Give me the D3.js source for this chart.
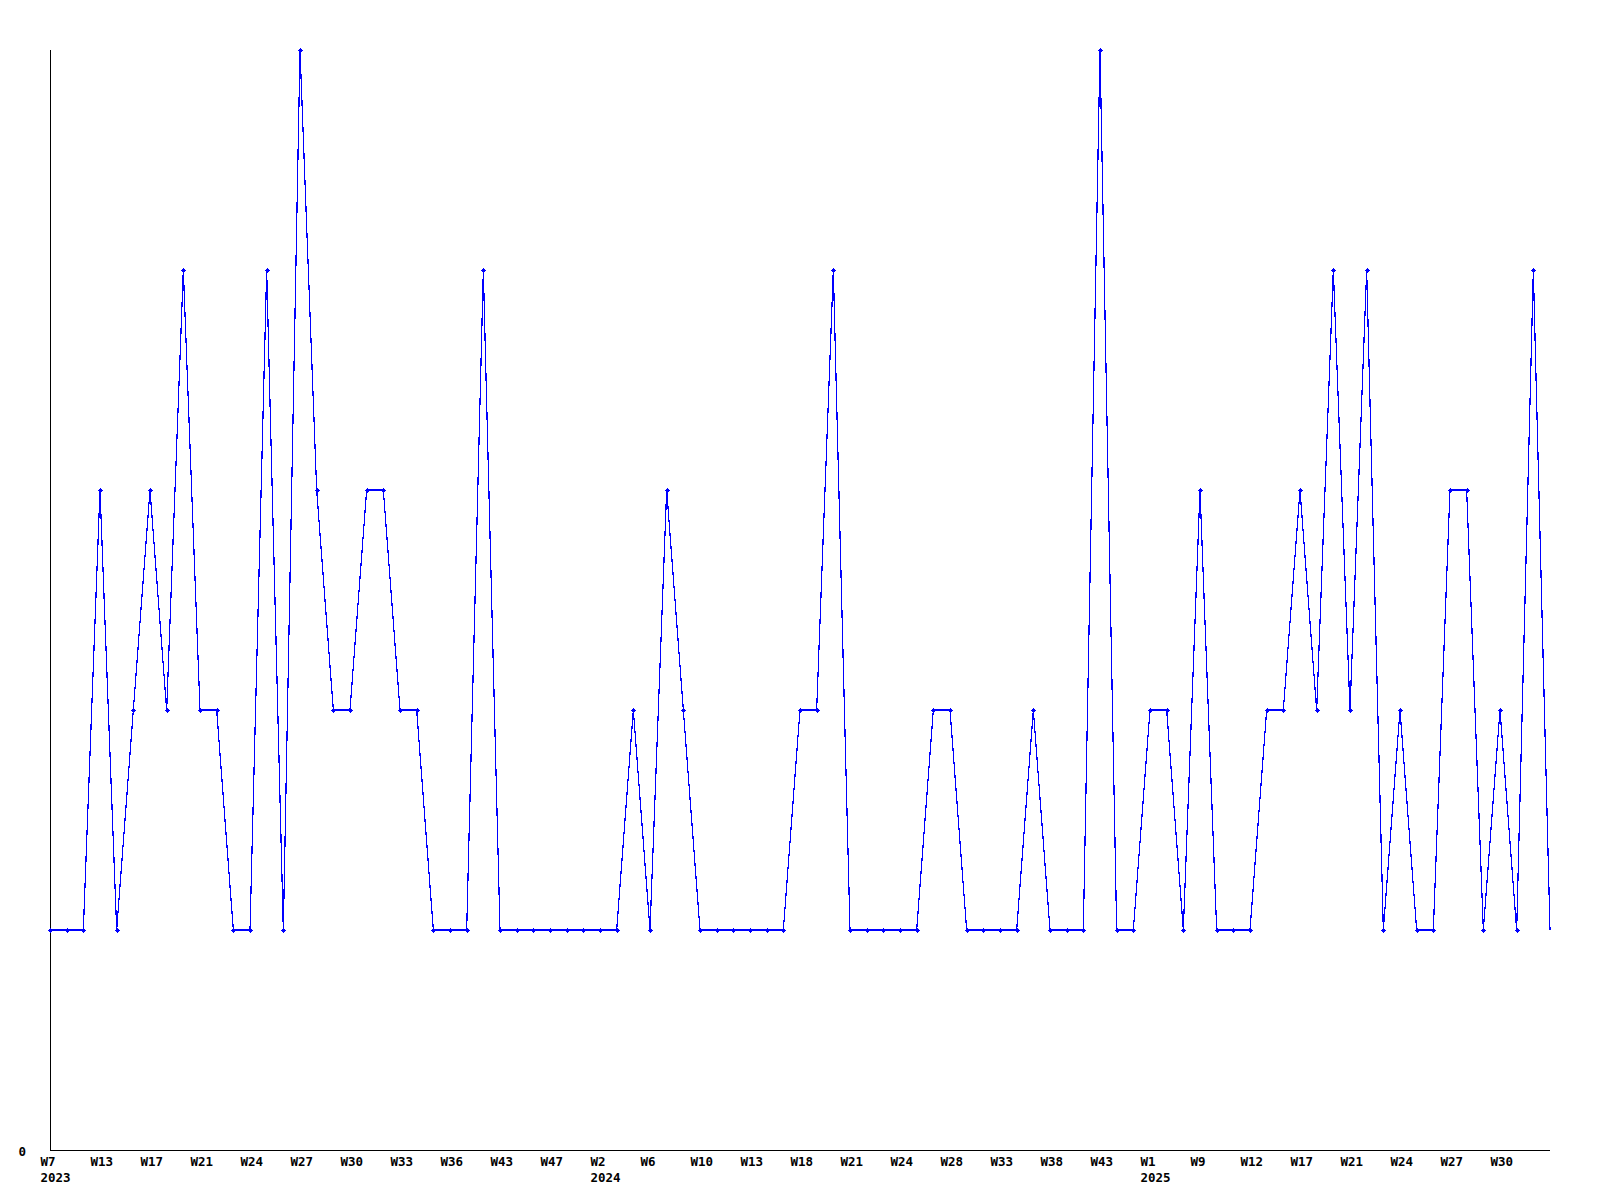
<!DOCTYPE html>
<html>
<head>
<meta charset="utf-8">
<script src="https://cdn.jsdelivr.net/npm/d3@7"></script>
<style>
  html, body { margin: 0; padding: 0; background: #ffffff; }
  svg { display: block; }
</style>
</head>
<body>
<script>
// ---- data ----
const values = [
  1, 1, 1, 3, 1, 2, 3, 2, 4, 2,
  2, 1, 1, 4, 1, 5, 3, 2, 2, 3,
  3, 2, 2, 1, 1, 1, 4, 1, 1, 1,
  1, 1, 1, 1, 1, 2, 1, 3, 2, 1,
  1, 1, 1, 1, 1, 2, 2, 4, 1, 1,
  1, 1, 1, 2, 2, 1, 1, 1, 1, 2,
  1, 1, 1, 5, 1, 1, 2, 2, 1, 3,
  1, 1, 1, 2, 2, 3, 2, 4, 2, 4,
  1, 2, 1, 1, 3, 3, 1, 2, 1, 4,
  1
];
const tickLabels = [
  "W7", "W13", "W17", "W21", "W24", "W27", "W30", "W33", "W36", "W43",
  "W47", "W2", "W6", "W10", "W13", "W18", "W21", "W24", "W28", "W33",
  "W38", "W43", "W1", "W9", "W12", "W17", "W21", "W24", "W27", "W30"
];
const tickYears = [
  "2023", "", "", "", "", "", "", "", "", "",
  "", "2024", "", "", "", "", "", "", "", "",
  "", "", "2025", "", "", "", "", "", "", ""
];
const tickStep = 3;
const yMax = 5;
const yTickValues = [0];

// ---- layout ----
const W = 1600, H = 1200;
const mLeft = 50, mRight = 1550, mTop = 50, mBottom = 1150;
const fontFamily = "'DejaVu Sans Mono', 'Liberation Mono', monospace";

const svg = d3.select("body").append("svg")
  .attr("width", W).attr("height", H);

const x = d3.scaleLinear().domain([0, values.length - 1]).range([mLeft, mRight]);
const y = d3.scaleLinear().domain([0, yMax]).range([mBottom, mTop]);

// y axis
const yAxis = svg.append("g")
  .attr("transform", `translate(${mLeft},0)`)
  .call(d3.axisLeft(y).tickValues(yTickValues).tickSize(0).tickPadding(24)
        .tickFormat(d3.format("d")));
yAxis.select(".domain").attr("stroke", "#000").attr("shape-rendering", "crispEdges")
  .attr("d", `M0.5,${mTop}V${mBottom}`);
yAxis.selectAll("text")
  .attr("font-family", fontFamily).attr("font-weight", "bold")
  .attr("font-size", 12.5).attr("fill", "#000")
  .attr("dy", "0.4em");

// x axis
const tickIdx = tickLabels.map((_, k) => k * tickStep);
const xAxis = svg.append("g")
  .attr("transform", `translate(0,${mBottom})`)
  .call(d3.axisBottom(x).tickValues(tickIdx).tickSize(0).tickPadding(0)
        .tickFormat((d, i) => tickLabels[i]));
xAxis.select(".domain").attr("stroke", "#000").attr("shape-rendering", "crispEdges")
  .attr("d", `M${mLeft},0.5H${mRight}`);
xAxis.selectAll(".tick text").each(function(d, i) {
  const t = d3.select(this);
  t.text(null)
    .attr("font-family", fontFamily).attr("font-weight", "bold")
    .attr("font-size", 12.5).attr("fill", "#000")
    .attr("text-anchor", "start").attr("dy", null).attr("y", 0);
  t.append("tspan").attr("x", -10).attr("y", 16).text(tickLabels[i]);
  if (tickYears[i]) t.append("tspan").attr("x", -10).attr("y", 32).text(tickYears[i]);
});

// line
const line = d3.line().x((d, i) => x(i)).y(d => y(d));
svg.append("path")
  .datum(values)
  .attr("d", line)
  .attr("fill", "none")
  .attr("stroke", "#0000ff")
  .attr("stroke-width", 1.2)
  .attr("shape-rendering", "crispEdges");

// markers (the final point has none in the reference)
svg.append("g").selectAll("path")
  .data(values.slice(0, -1))
  .join("path")
  .attr("transform", (d, i) => `translate(${Math.round(x(i)) + 0.5},${Math.round(y(d)) + 0.5})`)
  .attr("d", "M-2.5,-0.5h5v1h-5z M-0.5,-2.5h1v5h-1z M-1.5,-1.5h3v3h-3z")
  .attr("fill", "#0000ff")
  .attr("shape-rendering", "crispEdges");
</script>
</body>
</html>
